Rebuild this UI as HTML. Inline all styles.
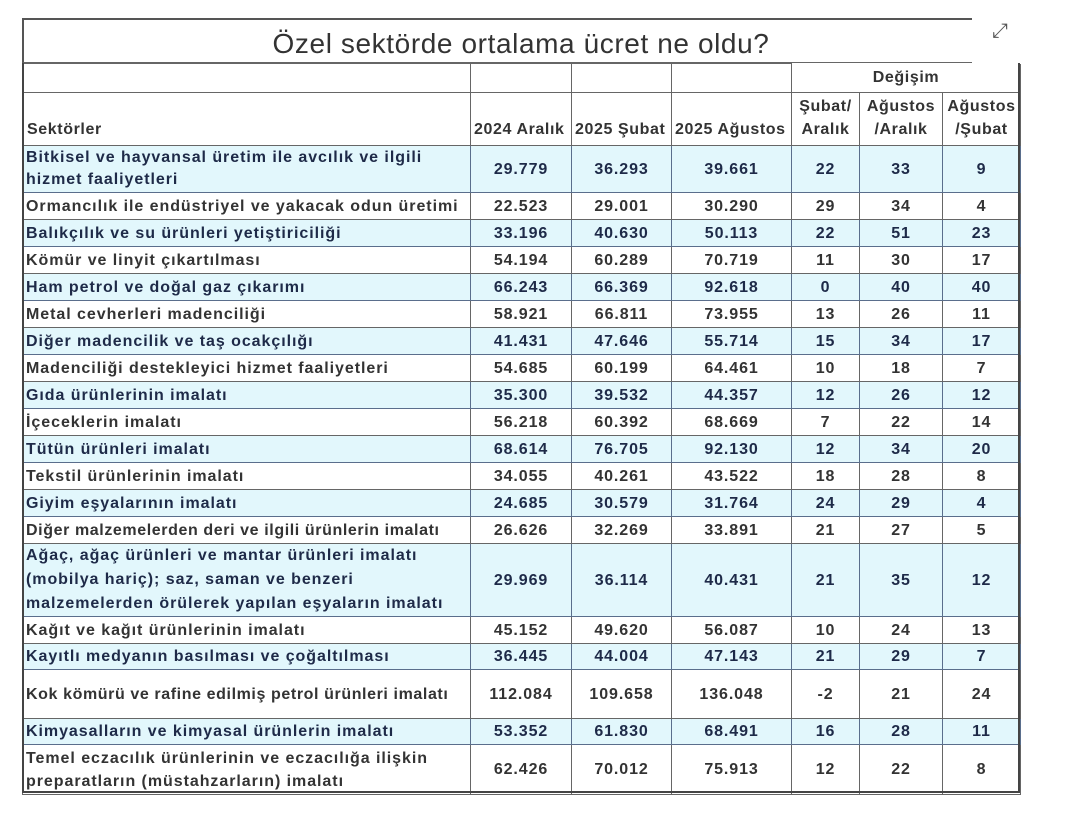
<!DOCTYPE html>
<html><head><meta charset="utf-8"><style>
body{margin:0;background:#fff;width:1080px;height:816px;position:relative;overflow:hidden;font-family:"Liberation Sans",Arial,sans-serif}
.title{position:absolute;left:22px;top:18px;width:950px;height:45px;border-top:2px solid #555;border-left:2px solid #555;border-bottom:1px solid #666;box-sizing:border-box;text-align:center;font-size:28px;letter-spacing:0.6px;color:#333;line-height:48px;padding-left:46px}
table{position:absolute;left:22px;top:63px;border-collapse:collapse;table-layout:fixed}
td{border:1px solid #666;padding:0 4px;font-size:16px;letter-spacing:0.9px;color:#333;font-weight:bold;overflow:hidden;white-space:nowrap;line-height:19px}
td.t{letter-spacing:0.95px;padding-left:3px}
td.n{text-align:center}
tr.h td{background:#e2f7fc;color:#1e2a48;border-color:#5a6e8c}
.hd td{font-size:16px;letter-spacing:0.6px;color:#333;vertical-align:bottom;padding-bottom:4px;line-height:23px}
.outer{position:absolute;left:22px;top:63px;width:998px;height:730px;border-left:2px solid #444;border-right:2px solid #444;border-bottom:2px solid #444;box-sizing:border-box;pointer-events:none}
</style></head><body>
<div class="title">Özel sektörde ortalama ücret ne oldu?</div>
<div style="position:absolute;left:992px;top:20px;font-size:20px;color:#555">⤢</div>
<table>
<colgroup><col style="width:448px"><col style="width:101px"><col style="width:100px"><col style="width:120px"><col style="width:68px"><col style="width:83px"><col style="width:78px"></colgroup>
<tr class="hd" style="height:29px"><td></td><td></td><td></td><td></td><td colspan="3" style="text-align:center;border-bottom:1px solid #666;vertical-align:middle;padding:0;border-top:none">Değişim</td></tr>
<tr class="hd" style="height:53px"><td>Sektörler</td><td style="padding:0 0 4px 3px">2024 Aralık</td><td style="padding:0 0 4px 3px">2025 Şubat</td><td style="padding:0 0 4px 3px">2025 Ağustos</td><td class="n" style="padding:0 0 4px 0">Şubat/<br>Aralık</td><td class="n" style="padding:0 0 4px 0">Ağustos<br>/Aralık</td><td class="n" style="padding:0 0 4px 0">Ağustos<br>/Şubat</td></tr>
<tr class="h" style="height:47px"><td class="t" style="line-height:22px">Bitkisel ve hayvansal üretim ile avcılık ve ilgili<br>hizmet faaliyetleri</td><td class="n">29.779</td><td class="n">36.293</td><td class="n">39.661</td><td class="n">22</td><td class="n">33</td><td class="n">9</td></tr>
<tr style="height:27px"><td class="t">Ormancılık ile endüstriyel ve yakacak odun üretimi</td><td class="n">22.523</td><td class="n">29.001</td><td class="n">30.290</td><td class="n">29</td><td class="n">34</td><td class="n">4</td></tr>
<tr class="h" style="height:27px"><td class="t">Balıkçılık ve su ürünleri yetiştiriciliği</td><td class="n">33.196</td><td class="n">40.630</td><td class="n">50.113</td><td class="n">22</td><td class="n">51</td><td class="n">23</td></tr>
<tr style="height:27px"><td class="t">Kömür ve linyit çıkartılması</td><td class="n">54.194</td><td class="n">60.289</td><td class="n">70.719</td><td class="n">11</td><td class="n">30</td><td class="n">17</td></tr>
<tr class="h" style="height:27px"><td class="t">Ham petrol ve doğal gaz çıkarımı</td><td class="n">66.243</td><td class="n">66.369</td><td class="n">92.618</td><td class="n">0</td><td class="n">40</td><td class="n">40</td></tr>
<tr style="height:27px"><td class="t">Metal cevherleri madenciliği</td><td class="n">58.921</td><td class="n">66.811</td><td class="n">73.955</td><td class="n">13</td><td class="n">26</td><td class="n">11</td></tr>
<tr class="h" style="height:27px"><td class="t">Diğer madencilik ve taş ocakçılığı</td><td class="n">41.431</td><td class="n">47.646</td><td class="n">55.714</td><td class="n">15</td><td class="n">34</td><td class="n">17</td></tr>
<tr style="height:27px"><td class="t">Madenciliği destekleyici hizmet faaliyetleri</td><td class="n">54.685</td><td class="n">60.199</td><td class="n">64.461</td><td class="n">10</td><td class="n">18</td><td class="n">7</td></tr>
<tr class="h" style="height:27px"><td class="t">Gıda ürünlerinin imalatı</td><td class="n">35.300</td><td class="n">39.532</td><td class="n">44.357</td><td class="n">12</td><td class="n">26</td><td class="n">12</td></tr>
<tr style="height:27px"><td class="t">İçeceklerin imalatı</td><td class="n">56.218</td><td class="n">60.392</td><td class="n">68.669</td><td class="n">7</td><td class="n">22</td><td class="n">14</td></tr>
<tr class="h" style="height:27px"><td class="t">Tütün ürünleri imalatı</td><td class="n">68.614</td><td class="n">76.705</td><td class="n">92.130</td><td class="n">12</td><td class="n">34</td><td class="n">20</td></tr>
<tr style="height:27px"><td class="t">Tekstil ürünlerinin imalatı</td><td class="n">34.055</td><td class="n">40.261</td><td class="n">43.522</td><td class="n">18</td><td class="n">28</td><td class="n">8</td></tr>
<tr class="h" style="height:27px"><td class="t">Giyim eşyalarının imalatı</td><td class="n">24.685</td><td class="n">30.579</td><td class="n">31.764</td><td class="n">24</td><td class="n">29</td><td class="n">4</td></tr>
<tr style="height:27px"><td class="t" style="letter-spacing:0.6px">Diğer malzemelerden deri ve ilgili ürünlerin imalatı</td><td class="n">26.626</td><td class="n">32.269</td><td class="n">33.891</td><td class="n">21</td><td class="n">27</td><td class="n">5</td></tr>
<tr class="h" style="height:72px"><td class="t" style="line-height:24px">Ağaç, ağaç ürünleri ve mantar ürünleri imalatı<br>(mobilya hariç); saz, saman ve benzeri<br>malzemelerden örülerek yapılan eşyaların imalatı</td><td class="n">29.969</td><td class="n">36.114</td><td class="n">40.431</td><td class="n">21</td><td class="n">35</td><td class="n">12</td></tr>
<tr style="height:27px"><td class="t">Kağıt ve kağıt ürünlerinin imalatı</td><td class="n">45.152</td><td class="n">49.620</td><td class="n">56.087</td><td class="n">10</td><td class="n">24</td><td class="n">13</td></tr>
<tr class="h" style="height:26px"><td class="t">Kayıtlı medyanın basılması ve çoğaltılması</td><td class="n">36.445</td><td class="n">44.004</td><td class="n">47.143</td><td class="n">21</td><td class="n">29</td><td class="n">7</td></tr>
<tr style="height:49px"><td class="t" style="letter-spacing:0.6px">Kok kömürü ve rafine edilmiş petrol ürünleri imalatı</td><td class="n">112.084</td><td class="n">109.658</td><td class="n">136.048</td><td class="n">-2</td><td class="n">21</td><td class="n">24</td></tr>
<tr class="h" style="height:26px"><td class="t">Kimyasalların ve kimyasal ürünlerin imalatı</td><td class="n">53.352</td><td class="n">61.830</td><td class="n">68.491</td><td class="n">16</td><td class="n">28</td><td class="n">11</td></tr>
<tr style="height:50px"><td class="t" style="line-height:23px">Temel eczacılık ürünlerinin ve eczacılığa ilişkin<br>preparatların (müstahzarların) imalatı</td><td class="n">62.426</td><td class="n">70.012</td><td class="n">75.913</td><td class="n">12</td><td class="n">22</td><td class="n">8</td></tr>
</table>
<div class="outer"></div>
</body></html>
